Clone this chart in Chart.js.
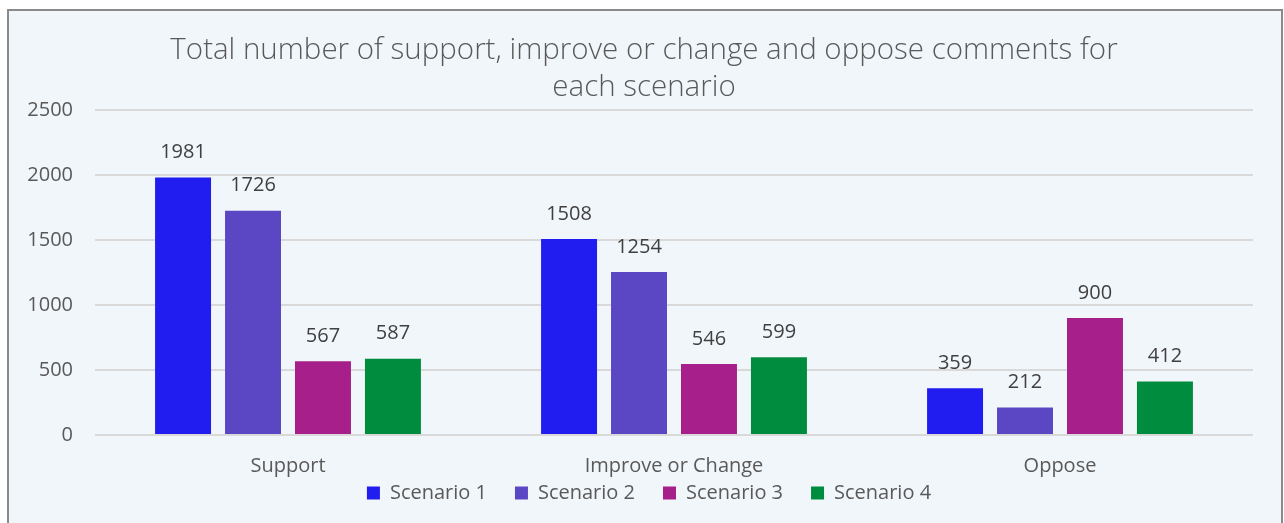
<!DOCTYPE html>
<html>
<head>
<meta charset="utf-8">
<script src="https://cdn.jsdelivr.net/npm/chart.js@4/dist/chart.umd.min.js"></script>
<style>
  html,body{margin:0;padding:0;background:#fff;}
  #wrap{position:absolute;left:7px;top:9px;width:1272px;height:512px;border:2px solid #8a8a8a;background:#f1f6fa;}
  canvas{display:block;}
</style>
</head>
<body>
<div id="wrap"><canvas id="c" width="1272" height="512"></canvas></div>
<script>
const categories = ['Support', 'Improve or Change', 'Oppose'];
const seriesNames = ['Scenario 1', 'Scenario 2', 'Scenario 3', 'Scenario 4'];
const scenario1 = [1981, 1508, 359];
const scenario2 = [1726, 1254, 212];
const scenario3 = [567, 546, 900];
const scenario4 = [587, 599, 412];
const yTicks = [0, 500, 1000, 1500, 2000, 2500];
const colors = ['#211cef', '#5b47c4', '#a61f8b', '#008c3e'];

const FONT = "'Open Sans', sans-serif";

const valueLabels = {
  id: 'valueLabels',
  afterDatasetsDraw(chart){
    const ctx = chart.ctx;
    ctx.save();
    ctx.font = `20px ${FONT}`;
    ctx.fillStyle = '#404040';
    ctx.textAlign = 'center';
    ctx.textBaseline = 'middle';
    chart.data.datasets.forEach((ds, i) => {
      chart.getDatasetMeta(i).data.forEach((bar, j) => {
        ctx.fillText(String(ds.data[j]), bar.x, bar.y - 25);
      });
    });
    ctx.restore();
  }
};

// pull the legend up under the category labels (Excel-style tight legend)
// and center title/legend on the frame instead of the padded area
const boxNudge = {
  id: 'boxNudge',
  beforeDraw(chart){
    const lg = chart.legend;
    const h = lg.bottom - lg.top;
    lg.top = chart.chartArea.bottom + 20;
    lg.bottom = lg.top + h;
    lg.left += 12; lg.right += 12;
    const t = chart.titleBlock;
    t.left += 7; t.right += 7;
  }
};

const sets = [scenario1, scenario2, scenario3, scenario4];
new Chart(document.getElementById('c'), {
  type: 'bar',
  data: {
    labels: categories,
    datasets: sets.map((d, i) => ({
      label: seriesNames[i], data: d, backgroundColor: colors[i],
      categoryPercentage: 0.725, barPercentage: 0.8
    }))
  },
  options: {
    responsive: false,
    animation: false,
    layout: { padding: { left: 12, right: 28, top: 0, bottom: -24 } },
    plugins: {
      title: {
        display: true,
        text: ['Total number of support, improve or change and oppose comments for', 'each scenario'],
        color: '#595959',
        font: { family: FONT, size: 29.5, weight: 300, lineHeight: 1.255 },
        padding: { top: 21, bottom: 4 }
      },
      legend: {
        position: 'bottom',
        labels: {
          color: '#595959', boxWidth: 13, boxHeight: 13, padding: 28,
          font: { family: FONT, size: 20 }
        }
      },
      tooltip: { enabled: false }
    },
    scales: {
      x: {
        grid: { display: false },
        border: { display: false },
        ticks: { color: '#595959', padding: 11, font: { family: FONT, size: 20 } }
      },
      y: {
        min: 0, max: 2500,
        afterBuildTicks(scale){ scale.ticks = yTicks.map(v => ({ value: v })); },
        afterFit(scale){ scale.width = 74; },
        grid: { color: '#d9d9d9', lineWidth: 2, drawTicks: false },
        border: { display: false },
        ticks: { color: '#595959', padding: 22, font: { family: FONT, size: 20 }, callback: v => String(v) }
      }
    }
  },
  plugins: [valueLabels, boxNudge]
});
</script>
</body>
</html>
